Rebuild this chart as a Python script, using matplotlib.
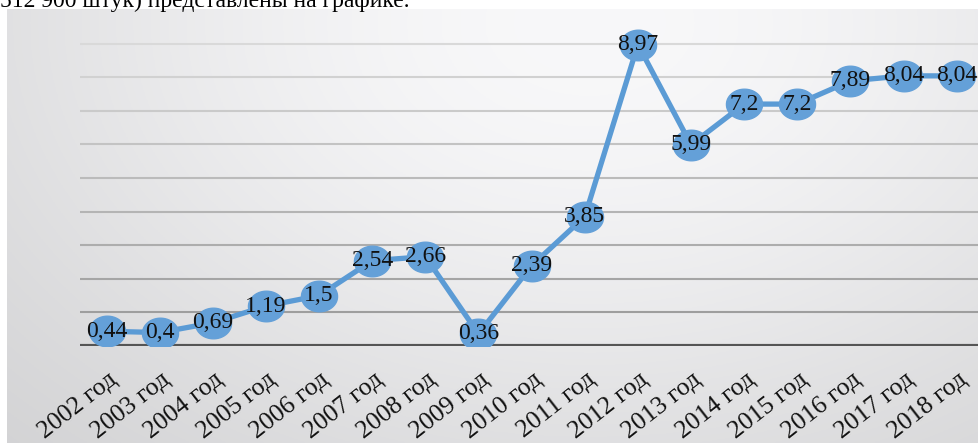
import matplotlib.pyplot as plt
import numpy as np
from matplotlib.path import Path
from matplotlib.transforms import ScaledTranslation

years = ["2002 год", "2003 год", "2004 год", "2005 год", "2006 год", "2007 год",
         "2008 год", "2009 год", "2010 год", "2011 год", "2012 год", "2013 год",
         "2014 год", "2015 год", "2016 год", "2017 год", "2018 год"]
values = [0.44, 0.4, 0.69, 1.19, 1.5, 2.54, 2.66, 0.36, 2.39, 3.85, 8.97,
          5.99, 7.2, 7.2, 7.89, 8.04, 8.04]
labels = ["0,44", "0,4", "0,69", "1,19", "1,5", "2,54", "2,66", "0,36", "2,39",
          "3,85", "8,97", "5,99", "7,2", "7,2", "7,89", "8,04", "8,04"]
top_text = "512 900 штук) представлены на графике."

W, H = 979, 443
fig = plt.figure(figsize=(W / 100, H / 100), dpi=100)
fig.patch.set_facecolor("white")

serif = ["Liberation Serif", "DejaVu Serif"]

# gradient backdrop of the chart area
bg = fig.add_axes([7 / W, 0, 1 - 7 / W, (H - 9) / H], zorder=0)
gx, gy = np.meshgrid(np.linspace(0, 1, 400), np.linspace(0, 1, 200))
d2 = (gx - 0.6) ** 2 + ((gy - 0.03) * 0.64) ** 2
drop = 50 * (1 - np.exp(-87 * d2 / 50))
gray = (248 - drop) / 255
bg.imshow(np.dstack([gray, gray, gray + 0.006]).clip(0, 1), aspect="auto",
          extent=(0, 1, 1, 0))
bg.axis("off")

ax = fig.add_axes([80 / W, (H - 346) / H, 1 - 80 / W, (346 - 9) / H], zorder=1)
ax.set_facecolor("none")
x = np.arange(len(values))
ax.set_xlim(-0.5, 16.42)
ax.set_ylim(0, 10.03)

# gridlines, lighter towards the top
for v in range(1, 10):
    c = 0.62 + 0.23 * (v - 1) / 8
    ax.axhline(v, color=(c, c, c), lw=1.5, zorder=1)
ax.axhline(0, color="#555555", lw=3, zorder=2)

t = np.linspace(0, 2 * np.pi, 60)
ellipse = Path(np.column_stack([1.18 * np.cos(t), np.sin(t)]))
ax.plot(x, values, color="#5b9bd5", lw=3.8, zorder=3, solid_capstyle="round")
ax.plot(x, values, linestyle="none", marker=ellipse, markersize=26,
        markerfacecolor="#64a0d8", markeredgecolor="#64a0d8", zorder=4)

for xi, v, s in zip(x, values, labels):
    ax.text(xi, v, s, ha="center", va="center", fontsize=17, family=serif,
            color="#111111", zorder=5)

for side in ["top", "right", "left", "bottom"]:
    ax.spines[side].set_visible(False)
ax.set_yticks([])
ax.set_xticks(x)
ax.set_xticklabels(years, rotation=38, ha="right", va="center",
                   rotation_mode="anchor", fontsize=18.5, family=serif,
                   color="#111111")
ax.tick_params(axis="x", length=0, pad=0)
shift = ScaledTranslation(0.08, -0.31, fig.dpi_scale_trans)
for lab in ax.get_xticklabels():
    lab.set_transform(lab.get_transform() + shift)

fig.text(0.0, 1 - 7 / H, top_text, ha="left", va="baseline", fontsize=17,
         family=serif, color="black")

fig.savefig("out.png", dpi=100)
